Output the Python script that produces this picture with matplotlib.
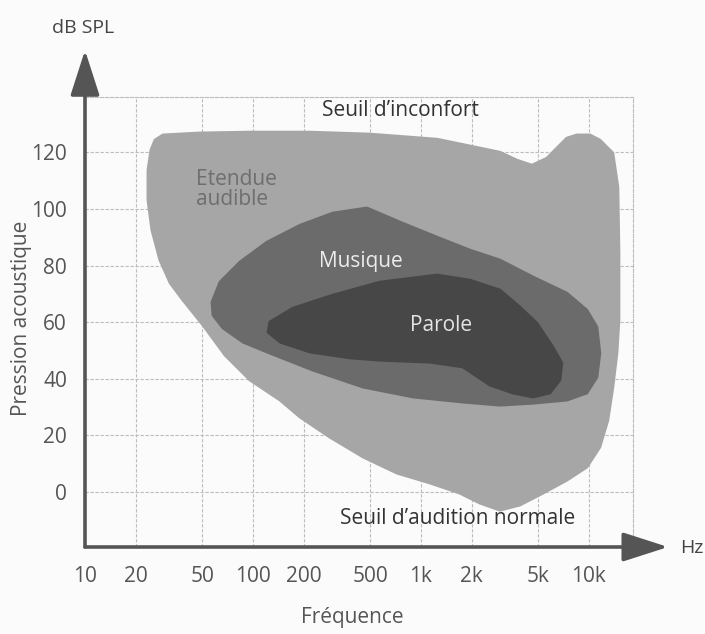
import numpy as np
import matplotlib.pyplot as plt
from matplotlib.patches import Polygon

plt.rcParams['font.family'] = ['Open Sans', 'DejaVu Sans']

# outlines, frequency in Hz and level in dB SPL
audible_f = [29.1, 48.4, 95.9, 218, 497, 1245, 1958, 2953, 3725, 4581, 5625,
             6452, 7396, 8490, 10150, 11620, 13890, 14880, 15100, 15100, 14690,
             13890, 12970, 11620, 9720, 7396, 5320, 3880, 2953, 2244, 1706,
             1132, 719, 452, 287, 190.6, 144.8, 95.9, 68.1, 50.4, 38.3, 32.1,
             27.9, 25.0, 23.7, 23.7, 24.7, 26.1]
audible_db = [126.2, 126.9, 127.2, 127.2, 126.5, 124.7, 122.3, 120.1, 117.3,
              115.5, 118.0, 121.6, 125.1, 126.2, 126.2, 124.4, 119.8, 107.8,
              84.5, 60.8, 49.1, 37.1, 25.4, 15.9, 8.8, 4.2, -0.4, -4.6, -6.4,
              -3.9, -0.4, 3.2, 6.7, 12.4, 19.4, 26.5, 32.5, 39.6, 48.4, 59.0,
              67.8, 73.9, 82.0, 92.6, 103.2, 113.8, 120.9, 124.4]

music_f = [477, 750, 1245, 1958, 2953, 4645, 7396, 9720, 11160, 11620, 11160,
           9720, 7396, 4645, 2953, 1778, 896, 452, 227, 121, 87.1, 66.2, 57.8,
           57.0, 63.6, 83.7, 121, 190.6, 299]
music_db = [100.4, 95.4, 90.1, 85.5, 82.0, 76.0, 70.3, 64.3, 58.3, 49.1, 40.6,
            35.0, 32.5, 31.4, 30.7, 31.8, 33.6, 37.1, 43.1, 49.5, 53.0, 58.0,
            62.5, 67.1, 74.2, 81.3, 88.3, 94.3, 98.6]

speech_f = [570, 1245, 1958, 2953, 3880, 4900, 6110, 6905, 6720, 5860, 4645,
            3530, 2576, 1778, 1132, 570, 378, 218, 145, 123, 126, 173, 299]
speech_db = [74.2, 76.7, 74.9, 71.4, 65.4, 59.7, 51.2, 45.6, 39.6, 35.0, 33.6,
             35.0, 37.8, 44.2, 45.9, 46.6, 47.4, 49.5, 53.0, 56.5, 60.1, 65.0,
             69.6]

xticks = [10, 20, 50, 100, 200, 500, 1000, 2000, 5000, 10000]
xlabels = ['10', '20', '50', '100', '200', '500', '1k', '2k', '5k', '10k']
yticks = [0, 20, 40, 60, 80, 100, 120]

fig = plt.figure(figsize=(7.05, 6.34), dpi=100)
fig.patch.set_facecolor('#fbfbfb')
ax = fig.add_axes([85/705, 87/634, 548/705, 450/634])
ax.set_facecolor('#fbfbfb')
ax.set_xscale('log')
ax.set_xlim(10, 18300)
ax.set_ylim(-19.4, 139.6)

dash = (0, (3, 1.5))
for f in xticks[1:]:
    ax.axvline(f, color='#bdbdbd', lw=0.8, ls=dash, zorder=0)
for v in yticks:
    ax.axhline(v, color='#bdbdbd', lw=0.8, ls=dash, zorder=0)
for s in ['top', 'right']:
    ax.spines[s].set_color('#bdbdbd')
    ax.spines[s].set_linewidth(0.8)
    ax.spines[s].set_linestyle(dash)
for s in ['left', 'bottom']:
    ax.spines[s].set_visible(False)

for fx, db, col in [(audible_f, audible_db, '#a6a6a6'),
                    (music_f, music_db, '#6b6b6b'),
                    (speech_f, speech_db, '#474747')]:
    ax.add_patch(Polygon(np.column_stack([fx, db]), closed=True, fc=col,
                         ec=col, lw=2, joinstyle='round', zorder=2))

ax.set_xticks(xticks)
ax.set_xticklabels(xlabels)
ax.set_yticks(yticks)
ax.minorticks_off()
ax.tick_params(axis='both', length=0, labelsize=15, labelcolor='#555555')
ax.tick_params(axis='x', pad=14)
ax.tick_params(axis='y', pad=13)

# axes with arrow heads
arw = dict(arrowstyle='-|>,head_length=1.4,head_width=0.45', lw=2.6,
           color='#555555', shrinkA=0, shrinkB=0, mutation_scale=20)
ax.annotate('', xy=(0, 1.104), xytext=(0, 0), xycoords='axes fraction',
            arrowprops=arw, annotation_clip=False, zorder=5)
ax.annotate('', xy=(1.064, 0), xytext=(0, 0), xycoords='axes fraction',
            arrowprops=arw, annotation_clip=False, zorder=5)

ax.text(46, 107, 'Etendue\naudible', ha='left', va='center', fontsize=15,
        color='#6e6e6e', linespacing=0.95, zorder=3)
ax.text(440, 81.3, 'Musique', ha='center', va='center', fontsize=15,
        color='#ececec', zorder=3)
ax.text(1315, 58.7, 'Parole', ha='center', va='center', fontsize=15,
        color='#e4e4e4', zorder=3)
ax.text(750, 135, 'Seuil d’inconfort', ha='center', va='center', fontsize=15,
        color='#333333', zorder=3)
ax.text(1660, -9.2, 'Seuil d’audition normale', ha='center', va='center',
        fontsize=15, color='#333333', zorder=3)

fig.text(83/705, 1 - 28/634, 'dB SPL', ha='center', va='center', fontsize=14,
         color='#444444')
fig.text(680/705, 1 - 548/634, 'Hz', ha='left', va='center', fontsize=14,
         color='#444444')
fig.text(22/705, 1 - 318/634, 'Pression acoustique', ha='center', va='center',
         rotation=90, fontsize=15, color='#555555')
fig.text(352/705, 1 - 618/634, 'Fréquence', ha='center', va='center',
         fontsize=15, color='#555555')

fig.savefig('out.png', dpi=100)
